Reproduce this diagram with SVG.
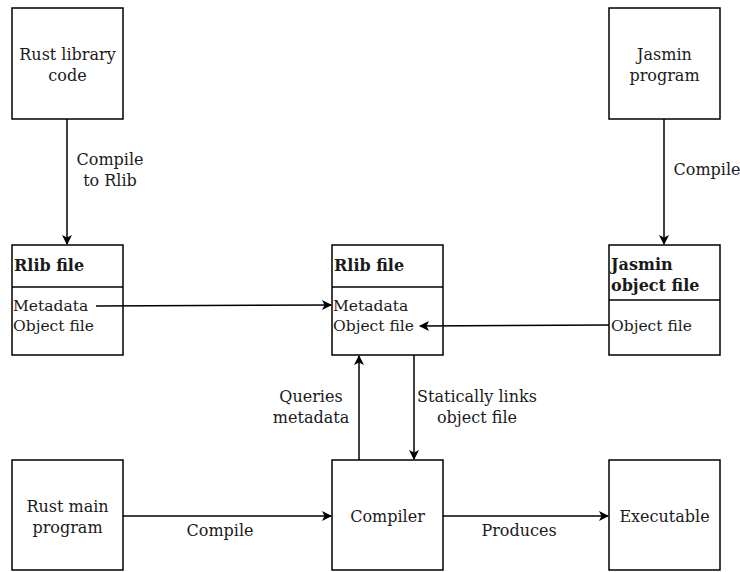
<svg xmlns="http://www.w3.org/2000/svg" width="740" height="572" viewBox="0 0 740 572">
<defs>
<style>
.box{fill:#fff;stroke:#000;stroke-width:1.5}
.ln{fill:none;stroke:#000;stroke-width:1.5}
text{font-family:"DejaVu Serif","Liberation Serif",serif;font-size:16px;fill:#1a1a1a}
.c{text-anchor:middle}
.b{font-weight:bold}
.in{font-size:15.5px}
</style>
<marker id="ah" viewBox="0 0 10 10" refX="9" refY="5" markerWidth="10" markerHeight="10" markerUnits="userSpaceOnUse" orient="auto">
<path d="M0,0 L10,5 L0,10 L2.5,5 z" fill="#000"/>
</marker>
</defs>
<rect width="740" height="572" fill="#fff"/>
<g id="rust-lib">
<rect class="box" x="12" y="8" width="111" height="111"/>
<text class="c" x="67.5" y="60">Rust library</text>
<text class="c" x="67.5" y="81">code</text>
</g>
<g id="jasmin-program">
<rect class="box" x="609" y="8" width="111" height="111"/>
<text class="c" x="664.5" y="60">Jasmin</text>
<text class="c" x="664.5" y="81">program</text>
</g>
<g id="rlib-left">
<rect class="box" x="12" y="245" width="111" height="110"/>
<line class="ln" x1="12" y1="287" x2="123" y2="287"/>
<text class="b" x="14" y="271">Rlib file</text>
<text class="in" x="13" y="311">Metadata</text>
<text class="in" x="13" y="331">Object file</text>
</g>
<g id="rlib-mid">
<rect class="box" x="332" y="245" width="111" height="110"/>
<line class="ln" x1="332" y1="287" x2="443" y2="287"/>
<text class="b" x="334" y="271">Rlib file</text>
<text class="in" x="333" y="311">Metadata</text>
<text class="in" x="333" y="331">Object file</text>
</g>
<g id="jasmin-obj">
<rect class="box" x="609" y="245" width="111" height="110"/>
<line class="ln" x1="609" y1="300" x2="720" y2="300"/>
<text class="b" x="611" y="270">Jasmin</text>
<text class="b" x="611" y="291">object file</text>
<text class="in" x="611" y="331">Object file</text>
</g>
<g id="rust-main">
<rect class="box" x="12" y="460" width="111" height="110"/>
<text class="c" x="67.5" y="512">Rust main</text>
<text class="c" x="67.5" y="533">program</text>
</g>
<g id="compiler">
<rect class="box" x="332" y="460" width="111" height="110"/>
<text class="c" x="387.5" y="522">Compiler</text>
</g>
<g id="executable">
<rect class="box" x="609" y="460" width="111" height="110"/>
<text class="c" x="664.5" y="522">Executable</text>
</g>
<g id="connectors">
<line class="ln" x1="67" y1="119" x2="67" y2="244" marker-end="url(#ah)"/>
<text class="c" x="110" y="165">Compile</text>
<text class="c" x="110" y="186">to Rlib</text>
<line class="ln" x1="664" y1="119" x2="664" y2="244" marker-end="url(#ah)"/>
<text class="c" x="707" y="175">Compile</text>
<line class="ln" x1="96" y1="306" x2="331" y2="305" marker-end="url(#ah)"/>
<line class="ln" x1="609" y1="325" x2="420" y2="326" marker-end="url(#ah)"/>
<line class="ln" x1="359" y1="460" x2="359" y2="356" marker-end="url(#ah)"/>
<text class="c" x="311" y="402">Queries</text>
<text class="c" x="311" y="423">metadata</text>
<line class="ln" x1="414" y1="355" x2="414" y2="459" marker-end="url(#ah)"/>
<text class="c" x="477" y="402">Statically links</text>
<text class="c" x="477" y="423">object file</text>
<line class="ln" x1="123" y1="516" x2="331" y2="516" marker-end="url(#ah)"/>
<text class="c" x="220" y="536">Compile</text>
<line class="ln" x1="443" y1="516" x2="608" y2="516" marker-end="url(#ah)"/>
<text class="c" x="519" y="536">Produces</text>
</g>
</svg>
